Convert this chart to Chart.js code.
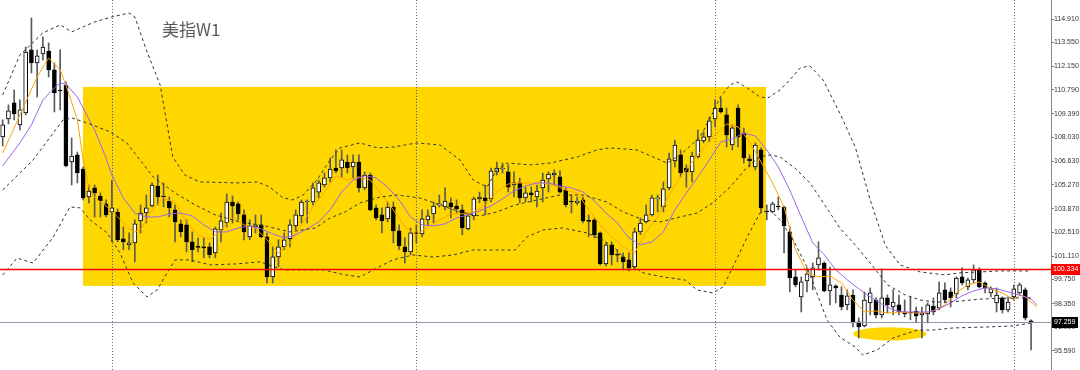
<!DOCTYPE html>
<html><head><meta charset="utf-8">
<script src="https://cdn.jsdelivr.net/npm/chart.js@4.4.1/dist/chart.umd.min.js"></script>
<style>html,body{margin:0;padding:0;background:#fff;overflow:hidden}#wrap{width:1080px;height:370px;position:relative}</style>
</head><body><div id="wrap"><canvas id="c" width="1080" height="370"></canvas></div>
<script>
const chartTitle = '美指W1';
const tickValues = [114.910,113.550,112.150,110.790,109.390,108.030,106.630,105.270,103.870,102.510,101.110,99.750,98.350,96.990,95.590];

const openP = [
108.05,109.09,110.03,108.75,109.44,113.11,112.35,112.88,113.05,111.95,
110.78,111.07,106.59,107.00,106.18,104.55,105.08,104.61,104.15,103.68,
103.68,102.12,101.77,101.88,103.16,103.62,104.03,105.19,104.61,104.32,
103.80,102.99,102.93,101.94,101.65,101.62,101.65,101.30,102.64,103.04,
104.26,104.15,103.51,102.23,102.81,102.93,102.23,99.90,101.07,101.65,
102.12,102.87,103.45,104.26,104.26,104.84,105.25,105.66,106.24,106.24,
106.59,106.30,106.59,105.08,105.83,103.92,103.51,103.28,103.97,102.58,
101.65,101.36,102.46,102.41,103.22,103.57,104.09,103.97,104.21,104.03,
103.80,102.70,103.45,104.44,104.50,104.44,106.01,106.18,106.01,105.25,
105.37,104.50,104.79,104.55,105.08,105.60,105.83,105.72,104.96,104.30,
104.21,104.38,103.16,103.22,102.46,100.66,101.77,101.19,101.07,100.89,
100.48,102.52,103.10,103.51,104.44,103.97,105.08,106.65,107.00,106.24,
106.01,106.88,107.81,108.05,109.09,109.73,109.33,107.58,109.73,108.28,
106.77,106.30,107.29,103.70,103.68,104.00,103.97,102.52,99.90,98.74,
99.67,99.90,100.60,100.71,99.09,99.38,98.85,98.27,98.85,97.28,
97.05,98.39,98.56,97.69,98.68,98.15,98.27,97.86,97.86,97.92,
97.69,97.75,98.21,98.09,99.15,99.03,98.91,99.90,99.32,99.73,
100.31,99.55,98.97,98.39,98.68,97.98,98.74,98.97,99.15,97.34];
const highP = [
109.04,109.91,110.78,110.20,113.28,114.97,113.11,113.87,113.52,112.35,
113.11,111.25,107.99,107.17,106.30,105.25,105.25,104.79,104.38,105.54,
103.86,102.81,102.46,103.22,104.09,104.67,105.37,105.83,105.37,104.55,
104.09,103.22,103.22,102.52,102.17,102.17,101.88,102.81,103.62,104.73,
104.61,104.26,103.80,103.22,103.51,103.51,102.46,101.65,102.06,102.46,
103.22,103.80,104.38,104.38,105.37,105.54,105.95,106.82,107.29,107.29,
107.00,107.00,107.00,106.01,105.95,104.09,103.92,104.26,104.26,102.93,
102.17,102.75,102.93,103.80,103.80,104.26,104.67,105.08,104.50,104.38,
104.09,103.62,104.55,104.84,105.25,106.24,106.59,106.53,106.42,106.01,
105.66,105.13,105.13,105.25,105.95,106.01,106.13,106.07,105.08,104.67,
104.55,104.55,103.51,103.33,102.52,101.88,101.94,101.48,101.30,101.30,
102.75,103.33,104.09,104.67,104.67,105.43,107.11,107.87,107.29,106.42,
107.17,108.45,108.34,109.21,110.20,110.32,109.73,108.75,109.91,108.57,
107.00,107.70,107.41,104.09,104.26,104.55,104.03,102.81,100.31,99.90,
100.43,100.71,101.94,100.78,100.48,99.44,99.32,99.15,99.15,97.51,
99.03,99.26,98.68,100.37,98.85,99.15,98.85,98.56,98.74,98.15,
98.15,98.39,98.68,99.61,99.55,99.26,99.90,100.43,99.84,100.60,
100.43,99.61,99.32,99.26,98.74,98.74,99.44,99.55,99.26,97.40];
const lowP = [
107.52,108.80,109.04,108.45,109.33,111.77,110.37,112.53,111.54,109.50,
109.62,106.30,105.25,105.37,104.38,104.21,103.39,103.39,103.39,101.94,
101.94,101.48,101.48,100.78,102.46,103.04,103.97,104.09,103.97,103.39,
101.94,102.23,101.36,100.78,101.36,101.01,101.01,101.01,101.94,102.81,
103.04,103.22,102.06,102.06,102.46,102.17,99.55,99.55,100.48,101.48,
101.65,102.64,103.04,103.04,104.09,104.50,105.13,105.43,105.95,105.72,
105.95,105.66,104.84,104.96,103.74,103.22,102.46,103.10,101.88,101.48,
100.71,101.19,101.88,102.23,102.93,103.04,103.97,103.80,103.33,103.62,
102.35,102.64,103.22,104.21,103.51,104.26,105.83,105.95,104.84,104.55,
104.21,104.26,104.26,103.97,104.26,104.84,105.25,104.79,103.97,103.62,
104.09,103.04,102.23,102.17,100.60,100.54,100.60,100.78,100.31,100.25,
100.31,102.35,103.04,103.45,103.68,103.68,104.96,106.30,105.72,105.13,
105.43,106.82,107.70,107.76,108.63,109.44,107.46,107.29,107.46,106.53,
106.30,106.13,103.62,103.22,103.62,103.80,101.30,99.03,99.32,97.86,
99.03,99.15,100.31,99.03,98.27,98.39,97.98,97.98,96.99,96.35,
96.99,97.69,97.51,97.51,97.80,97.69,97.69,97.57,97.40,97.28,
96.35,97.22,97.69,97.98,98.39,98.15,98.68,99.44,99.15,99.55,
99.26,98.97,98.74,97.86,97.80,97.86,98.56,98.85,97.40,95.65];
const closeP = [
108.75,109.56,109.39,109.62,112.99,112.35,112.76,113.28,111.95,110.61,
110.72,106.36,106.94,105.95,104.50,104.90,104.79,104.32,103.51,103.92,
102.06,101.94,101.88,102.99,103.62,103.92,105.25,104.55,104.55,103.92,
103.10,102.52,101.94,101.48,101.62,101.59,101.19,102.70,103.16,104.26,
104.03,103.57,102.52,102.87,102.93,102.23,99.90,101.07,101.65,102.06,
102.93,103.51,104.26,104.32,105.08,105.37,105.66,106.18,106.07,106.71,
106.24,106.59,105.08,105.83,103.80,103.33,103.16,103.97,102.58,101.71,
101.36,102.46,102.41,103.28,103.45,104.03,104.15,104.32,103.97,103.86,
102.75,103.45,104.44,104.55,104.32,106.07,106.24,106.20,105.13,105.37,
104.50,104.79,104.67,104.90,105.54,105.89,105.95,104.84,104.09,104.26,
104.32,103.16,103.13,102.35,100.66,101.77,101.19,101.16,100.78,100.43,
102.52,103.04,103.51,104.50,104.50,105.02,106.77,107.58,105.95,106.01,
106.94,107.87,108.05,108.98,109.73,109.50,108.16,108.57,108.05,106.82,
106.65,107.58,103.92,103.68,104.15,103.97,102.87,99.84,99.44,99.61,
100.08,100.43,101.01,99.09,99.44,99.26,98.15,98.80,97.28,96.99,
98.56,98.97,97.69,98.68,98.27,98.44,97.86,97.75,97.80,97.63,
97.80,98.27,97.86,98.97,98.56,98.68,99.84,99.55,99.73,100.31,
99.32,99.26,99.21,98.85,97.98,98.44,99.21,99.44,97.51,97.26];

// Fast moving average (orange) at these bar indices
const fastMaAt = [0,2,4,6,8,10,11,13,14,15,16,18,20,22,23,24,26,28,30,32,34,36,38,40,42,44,46,48,50,52,54,56,58,60,62,64,66,68,70,72,74,76,78,80,82,84,86,88,90,92,94,96,98,100,102,104,106,108,110,112,114,116,118,120,122,124,126,128,130,132,134,136,138,140,142,144,146,148,150,152,154,156,158,160,162,164,166,168,170,172,174,176,177,178,180];
const fastMa = [107.11,108.57,110.08,111.54,112.64,111.95,111.07,109.04,106.71,105.13,104.50,104.03,103.39,102.70,102.52,102.64,103.80,104.50,104.21,103.10,102.35,102.06,102.64,103.33,102.93,102.75,102.06,101.30,101.88,102.93,103.97,104.84,105.78,105.54,105.72,105.54,104.67,103.80,102.81,102.35,102.81,103.22,103.57,103.57,103.68,104.09,104.84,105.31,105.37,105.37,105.37,105.25,104.96,104.79,103.80,102.93,102.23,101.65,101.30,102.52,103.39,104.67,105.72,106.59,107.41,108.16,108.80,108.63,107.76,106.59,105.37,103.97,101.48,100.14,99.90,99.96,99.55,98.56,97.86,97.92,97.80,97.86,97.80,97.80,97.92,98.27,98.97,99.44,99.61,99.21,98.97,98.56,98.85,98.74,98.15];

// Slow moving average (purple)
const slowMaAt = [0,3,5,7,9,10,11,13,14,16,18,19,21,23,25,27,29,31,33,35,37,39,41,43,45,47,49,51,53,55,57,59,61,63,65,67,69,71,73,75,77,79,81,83,85,87,89,91,93,95,97,99,101,103,105,107,109,111,113,115,117,119,121,123,125,127,129,131,133,135,137,139,141,143,145,147,149,151,153,155,157,159,161,163,165,167,169,171,173,175,177,179,180];
const slowMa = [106.36,107.70,108.75,110.20,110.90,111.19,111.13,110.37,109.73,108.45,106.82,105.83,104.50,103.62,103.39,103.39,103.57,103.62,103.45,102.93,102.52,102.52,102.75,102.87,102.70,102.41,102.17,102.35,102.70,103.10,103.80,104.84,105.54,105.78,105.66,105.13,104.38,103.39,102.93,102.87,102.99,103.33,103.51,103.74,104.03,104.44,104.90,105.19,105.37,105.37,105.19,105.08,104.84,104.32,103.62,103.04,102.17,101.77,101.94,102.52,103.80,104.79,105.72,106.71,107.76,107.93,108.28,108.10,107.29,106.30,104.96,103.39,101.88,101.19,100.31,99.73,99.21,98.74,98.33,97.98,97.86,97.86,97.86,98.04,98.39,98.80,99.09,99.26,99.21,99.03,98.85,98.62,98.27];

// Bollinger bands (dotted)
const bandUpperAt = [0,3,7,10,12,16,19,22,23,25,27.4,29.6,31.7,34.3,40.8,44.3,46.5,48.8,50.5,52.3,54.7,57,58.7,62.2,65.2,68,72.1,76.1,79.6,81.9,84.3,86,87.8,91.8,95.3,100,103.4,105.7,110.4,113.2,115.6,117.9,121.4,123.6,124.9,126.6,127.8,129.6,131.8,133.2,135.3,137,138.8,140.5,142.8,145.7,148.4,151,153.6,156.2,159.7,164,166.6,170.1,173.6,179];
const bandUpper = [110.49,112.82,114.10,114.57,114.16,114.74,115.03,115.26,115.03,113.11,111.08,106.88,105.83,105.43,105.37,105.43,105.13,104.50,104.38,104.67,105.54,106.71,107.41,107.70,107.41,107.46,107.70,107.58,106.71,105.54,105.13,106.13,106.53,106.42,106.53,106.88,107.29,107.41,107.29,106.88,106.53,106.99,108.05,109.44,110.37,111.07,111.25,110.90,110.37,110.32,110.78,111.36,112.06,112.18,111.36,109.44,107.46,104.38,101.76,100.60,100.19,100.02,100.14,100.19,100.25,100.25];
const bandMidAt = [0,5.3,10.5,12.1,14.7,18.7,21.6,26.2,30,33.5,37,41.3,45.7,50,54.4,57,59.6,62.2,65.7,68.6,72.6,76.1,79.6,83.1,86,89.2,93,97,101,105.2,108,111.5,114.4,117.9,120.9,123.6,126.6,129.6,131.8,133.6,135.3,137.9,140.5,143.1,145.7,148.4,151,154,157.1,159.7,162.3,164.9,170.6,176.6,179];
const bandMid = [104.96,106.71,109.04,109.15,108.86,108.34,107.70,105.72,104.79,104.09,103.51,103.10,102.87,102.52,102.75,103.33,103.68,104.21,104.55,104.67,104.50,104.09,103.68,103.45,103.68,104.09,104.38,104.67,104.67,104.26,103.68,103.22,103.10,103.39,103.62,104.21,105.13,106.30,106.88,107.00,106.88,106.24,105.37,104.09,102.75,101.76,100.71,99.44,98.85,98.56,98.44,98.44,98.62,98.68,98.68];
const bandLowerAt = [0,2.5,5.3,8.8,11.7,13.5,15.2,18.2,20.4,22.7,25.1,26.9,28.6,30,32.6,36.1,40.8,44.8,48.8,55.8,59.6,62.2,64.5,67.9,71.4,74.9,78.4,81.9,86,89.2,91.3,94.1,97.5,101.7,104.5,106.9,109.2,111.5,115,118.8,120.9,123.6,125.4,127.1,129.6,131.8,133.6,135.3,137.6,140,141.7,143.5,145.7,148.4,149.7,152.2,155,159.2,161.9,165.4,171.3,175.9,179];
const bandLower = [100.01,101.00,100.71,102.23,103.97,103.92,103.22,102.46,101.30,99.55,98.74,99.15,100.13,100.89,100.89,100.60,100.66,100.78,100.31,100.31,100.02,99.90,100.31,100.89,101.18,101.06,101.18,101.47,101.47,101.47,102.23,102.64,102.75,102.46,102.05,101.47,100.60,100.13,99.90,99.72,99.14,98.97,99.32,100.48,102.23,103.62,103.80,103.22,102.05,100.48,98.97,97.39,96.40,95.82,95.35,95.65,96.35,96.81,96.81,96.93,96.99,97.05,97.22];

// Drawn objects (bar index / price anchors)
const zoneBars = [13.98, 132.86];
const zonePrices = [110.96, 99.38];
const ellipseBars = [148.0, 160.8];
const ellipsePrices = [96.97, 96.20];
const periodSeparators = [19, 72, 124, 176];
const resistanceLevel = 100.334;
const lastPrice = 97.259;

const bars = openP.map((_, i) => i);
const wickData = bars.map(i => ({x: i, y: [lowP[i], highP[i]]}));
const bodyData = bars.map(i => ({x: i, y: [openP[i], closeP[i]]}));
const bodyFill = bars.map(i => closeP[i] >= openP[i] ? '#ffffff' : '#000000');
const pts = (at, vals) => at.map((x, k) => ({x: x, y: vals[k]}));

const GOLD = '#FFD700';

// choose a narrow axis font so labels fit the 26px label column
const axisFont = (function () {
  const c = document.createElement('canvas').getContext('2d');
  c.font = '8.5px monospace';
  const base = c.measureText('114.910').width;
  c.font = '8.5px "Liberation Sans Narrow", monospace';
  const w = c.measureText('114.910').width;
  if (Math.abs(w - base) > 0.2 && w <= 26.5) return {family: '"Liberation Sans Narrow"', size: 8.5};
  return {family: '"Liberation Sans", Arial, sans-serif', size: 7};
})();
const axisFontCss = axisFont.size + 'px ' + axisFont.family;

const overlay = {
  id: 'overlay',
  beforeDatasetsDraw(chart) {
    const {ctx, chartArea: a, scales: {x, y}} = chart;
    ctx.save();
    ctx.beginPath(); ctx.rect(a.left, a.top, a.right - a.left, a.bottom - a.top); ctx.clip();
    const rx1 = x.getPixelForValue(zoneBars[0]), rx2 = x.getPixelForValue(zoneBars[1]);
    const ry1 = y.getPixelForValue(zonePrices[0]), ry2 = y.getPixelForValue(zonePrices[1]);
    ctx.fillStyle = GOLD;
    ctx.fillRect(rx1, ry1, rx2 - rx1, ry2 - ry1);
    const ex1 = x.getPixelForValue(ellipseBars[0]), ex2 = x.getPixelForValue(ellipseBars[1]);
    const ey1 = y.getPixelForValue(ellipsePrices[0]), ey2 = y.getPixelForValue(ellipsePrices[1]);
    ctx.beginPath();
    ctx.ellipse((ex1 + ex2) / 2, (ey1 + ey2) / 2, (ex2 - ex1) / 2, (ey2 - ey1) / 2, 0, 0, Math.PI * 2);
    ctx.fill();
    ctx.lineWidth = 1;
    ctx.setLineDash([1, 2]);
    periodSeparators.forEach((b, k) => {
      const px = Math.round(x.getPixelForValue(b)) + 0.5;
      ctx.strokeStyle = '#707070';
      ctx.beginPath(); ctx.moveTo(px, a.top); ctx.lineTo(px, a.bottom); ctx.stroke();
      if (k < 2) {
        ctx.strokeStyle = '#3a55c8';
        ctx.beginPath(); ctx.moveTo(px, ry1); ctx.lineTo(px, ry2); ctx.stroke();
      }
    });
    ctx.restore();
  },
  afterDatasetsDraw(chart) {
    const {ctx, chartArea: a, scales: {y}} = chart;
    ctx.save();
    const gy = y.getPixelForValue(lastPrice);
    ctx.strokeStyle = '#8a9aab'; ctx.lineWidth = 1;
    ctx.beginPath(); ctx.moveTo(a.left, Math.round(gy) + 0.5); ctx.lineTo(a.right, Math.round(gy) + 0.5); ctx.stroke();
    const ryy = y.getPixelForValue(resistanceLevel);
    ctx.strokeStyle = '#ff0000'; ctx.lineWidth = 1.5;
    ctx.beginPath(); ctx.moveTo(a.left, ryy); ctx.lineTo(a.right, ryy); ctx.stroke();
    ctx.fillStyle = '#5a5a5a';
    ctx.font = '17px "Noto Sans CJK SC", "Noto Sans", sans-serif';
    ctx.textBaseline = 'alphabetic';
    ctx.fillText(chartTitle, 162, 36);
    ctx.restore();
  },
  afterDraw(chart) {
    const {ctx, chartArea: a, scales: {y}} = chart;
    ctx.save();
    ctx.font = axisFontCss;
    ctx.textBaseline = 'middle';
    const ryy = Math.round(y.getPixelForValue(resistanceLevel));
    ctx.fillStyle = '#ff0000';
    ctx.fillRect(a.right, ryy - 5, 1080 - a.right, 11);
    ctx.fillStyle = '#ffffff';
    ctx.fillText(resistanceLevel.toFixed(3), a.right + 2, ryy + 0.5);
    const gy = Math.round(y.getPixelForValue(lastPrice));
    ctx.fillStyle = '#000000';
    ctx.fillRect(a.right + 1, gy - 5, 26, 11);
    ctx.fillStyle = '#ffffff';
    ctx.fillText(lastPrice.toFixed(3), a.right + 3, gy + 0.5);
    ctx.restore();
  }
};

const lineDs = (data, color, dash, width) => ({
  type: 'line', data: data, borderColor: color, borderWidth: width || 1,
  borderDash: dash || [], pointRadius: 0, tension: 0, fill: false, order: 0
});

new Chart(document.getElementById('c'), {
  type: 'bar',
  data: {
    datasets: [
      lineDs(pts(bandUpperAt, bandUpper), '#333333', [3, 3]),
      lineDs(pts(bandMidAt, bandMid), '#333333', [3, 3]),
      lineDs(pts(bandLowerAt, bandLower), '#333333', [3, 3]),
      lineDs(pts(slowMaAt, slowMa), '#9966ee'),
      lineDs(pts(fastMaAt, fastMa), '#ffa500'),
      {type: 'bar', data: bodyData, backgroundColor: bodyFill, borderColor: '#000000', borderWidth: 1,
       borderSkipped: false, barThickness: 4, grouped: false, minBarLength: 1, order: 1},
      {type: 'bar', data: wickData, backgroundColor: '#5a5a5a', borderWidth: 0,
       barThickness: 1, grouped: false, order: 2}
    ]
  },
  options: {
    responsive: false, animation: false, devicePixelRatio: 1, events: [],
    layout: {padding: 0},
    plugins: {legend: {display: false}, tooltip: {enabled: false}},
    scales: {
      x: {type: 'linear', display: false, min: -0.47, max: 182.47, offset: false},
      y: {
        position: 'right', min: 94.484, max: 116.016,
        afterBuildTicks: s => { s.ticks = tickValues.map(v => ({value: v})); },
        afterFit: s => { s.width = 29; s.paddingTop = 0; s.paddingBottom = 0; },
        ticks: {font: {size: axisFont.size, family: axisFont.family}, color: '#333333',
                padding: 0, autoSkip: false, callback: v => Number(v).toFixed(3)},
        grid: {drawOnChartArea: false, tickLength: 3, color: '#808080'},
        border: {color: '#8a8a8a', width: 1}
      }
    }
  },
  plugins: [overlay]
});
</script>
</body></html>
